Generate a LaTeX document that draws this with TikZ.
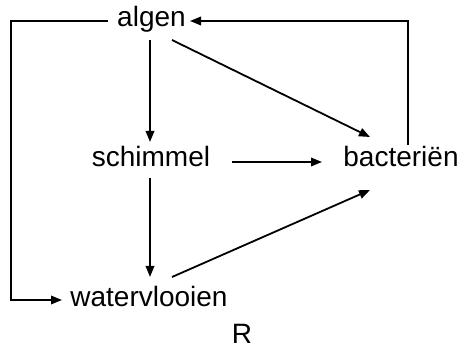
\documentclass[tikz,border=0pt]{standalone}
\usepackage{fontspec}
\setmainfont{Liberation Sans}
\usetikzlibrary{arrows.meta,calc}
\begin{document}
\begin{tikzpicture}[x=1pt,y=1pt,
  lbl/.style={anchor=base,inner sep=0pt,font=\fontsize{28}{32}\selectfont},
  conn/.style={line width=1.8pt,-{Triangle[length=11pt,width=8.5pt]}},
  plain/.style={line width=1.8pt}]
\useasboundingbox (0,0) rectangle (462,350);
\node[lbl] (algen) at (151.5,323) {algen};
\node[lbl] (schimmel) at (151,183) {schimmel};
\node[lbl] (bact) at (401,183) {bacteriën};
\node[lbl] (water) at (149,43) {watervlooien};
\node[lbl] (R) at (242,7) {R};
\coordinate (lt) at (11,329);
\coordinate (lb) at (11,50);
\coordinate (rt) at (408,329);
% left loop algen -> watervlooien
\draw[conn] ($(algen.base)+(-43.5,6)$) -- (lt) -- (lb) -- ($(water.base)+(-87,7)$);
% right loop bacterien -> algen
\draw[conn] ($(bact.base)+(7,22)$) -- (rt) -- ($(algen.base)+(38.5,6)$);
\draw[conn] ($(algen.base)+(-1.5,-13)$) -- ($(schimmel.base)+(-1,25)$);
\draw[conn] ($(algen.base)+(20.5,-13)$) -- ($(bact.base)+(-31,30)$);
\draw[conn] ($(schimmel.base)+(81,5)$) -- ($(bact.base)+(-79,5)$);
\draw[conn] ($(schimmel.base)+(-1,-11)$) -- ($(water.base)+(1,30)$);
\draw[conn] ($(water.base)+(23,30)$) -- ($(bact.base)+(-31,-23)$);
\end{tikzpicture}
\end{document}
